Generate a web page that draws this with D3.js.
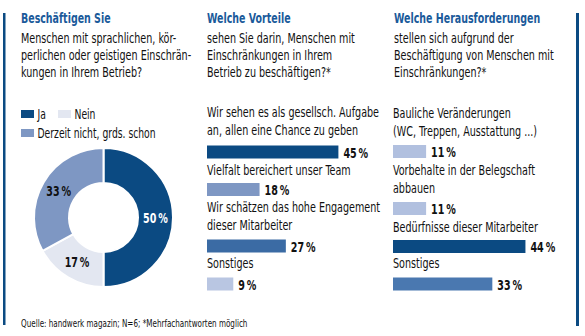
<!DOCTYPE html>
<html>
<head>
<meta charset="utf-8">
<script src="https://cdn.jsdelivr.net/npm/d3@7"></script>
<style>
  body { margin: 0; background: #fff; }
  svg text { font-family: "DejaVu Sans Condensed", "Liberation Sans", sans-serif; }
</style>
</head>
<body>
<div class="chart"></div>
<script>
// data
var pieLabels = ["Ja", "Nein", "Derzeit nicht, grds. schon"];
var pieValues = [50, 17, 33];

var vorteileLabels = [
  ["Wir sehen es als gesellsch. Aufgabe", "an, allen eine Chance zu geben"],
  ["Vielfalt bereichert unser Team"],
  ["Wir schätzen das hohe Engagement", "dieser Mitarbeiter"],
  ["Sonstiges"]
];
var vorteileValues = [45, 18, 27, 9];

var herausLabels = [
  ["Bauliche Veränderungen", "(WC, Treppen, Ausstattung ...)"],
  ["Vorbehalte in der Belegschaft", "abbauen"],
  ["Bedürfnisse dieser Mitarbeiter"],
  ["Sonstiges"]
];
var herausValues = [11, 11, 44, 33];

var svgWidth = 585;
var svgHeight = 336;

var dark = "#0b4a82";
var titleColor = "#1a5a9a";

var pieColors = ["#0b4a82", "#e3e7f1", "#7e97c3"];
var vorteileColors = ["#0b4a82", "#7e97c3", "#3b6ba4", "#b9c6e2"];
var herausColors = ["#b1c0df", "#b1c0df", "#0b4a82", "#4a78b0"];

var svg = d3.select(".chart")
  .append("svg")
  .attr("width", svgWidth)
  .attr("height", svgHeight);

// condensed look: squeeze text horizontally
function addText(parent, x, y, str, size, bold, sx, fill, anchor) {
  return parent.append("text")
    .attr("transform", "translate(" + x + "," + y + ") scale(" + sx + ",1)")
    .attr("font-size", size)
    .attr("font-weight", bold ? "bold" : "normal")
    .attr("fill", fill || "#111")
    .attr("text-anchor", anchor || "start")
    .text(str);
}

// frame bars
svg.append("rect").attr("x", 3).attr("y", 13).attr("width", 2.5).attr("height", 312).attr("fill", dark);
svg.append("rect").attr("x", 576).attr("y", 13).attr("width", 3).attr("height", 313).attr("fill", dark);

// column headers
function header(x, title, lines) {
  addText(svg, x, 23, title, 13.5, true, 0.78, titleColor);
  lines.forEach(function(l, i) {
    addText(svg, x, 43 + i * 17, l, 13.5, false, 0.79);
  });
}

header(21, "Beschäftigen Sie", ["Menschen mit sprachlichen, kör-", "perlichen oder geistigen Einschrän-", "kungen in Ihrem Betrieb?"]);
header(207, "Welche Vorteile", ["sehen Sie darin, Menschen mit", "Einschränkungen in Ihrem", "Betrieb zu beschäftigen?*"]);
header(394, "Welche Herausforderungen", ["stellen sich aufgrund der", "Beschäftigung von Menschen mit", "Einschränkungen?*"]);

// legend
var legendPos = [[21, 110], [58, 110], [21, 129]];
pieLabels.forEach(function(l, i) {
  var g = svg.append("g").attr("transform", "translate(" + legendPos[i][0] + "," + legendPos[i][1] + ")");
  g.append("rect").attr("width", 13).attr("height", 8).attr("fill", pieColors[i]);
  addText(g, 16.5, 8.5, l, 13.5, false, 0.76);
});

// donut
var pie = d3.pie().sort(null).value(function(d) { return d; });
var arc = d3.arc().innerRadius(34.5).outerRadius(69.5);
var labelArc = d3.arc().innerRadius(52).outerRadius(52);

var donut = svg.append("g").attr("transform", "translate(103.5,217.5)");
var arcs = pie(pieValues);

donut.selectAll("path")
  .data(arcs)
  .enter()
  .append("path")
  .attr("d", arc)
  .attr("fill", function(d, i) { return pieColors[i]; })
  .attr("stroke", "#fff")
  .attr("stroke-width", 2);

arcs.forEach(function(d, i) {
  var c = labelArc.centroid(d);
  addText(donut, c[0], c[1] + 5, d.data + "\u2009%", 14, true, 0.76, i === 0 ? "#fff" : "#111", "middle");
});

// bar lists
function barList(x0, pxPerPct, labels, values, colors, labelBaselines, barTops) {
  var xScale = d3.scaleLinear().domain([0, 100]).range([0, 100 * pxPerPct]);
  labels.forEach(function(lines, i) {
    lines.forEach(function(l, j) {
      addText(svg, x0, labelBaselines[i] + j * 18, l, 13.5, false, 0.79);
    });
  });
  var g = svg.append("g");
  g.selectAll("rect")
    .data(values)
    .enter()
    .append("rect")
    .attr("x", x0)
    .attr("y", function(d, i) { return barTops[i]; })
    .attr("width", function(d) { return xScale(d); })
    .attr("height", 13)
    .attr("fill", function(d, i) { return colors[i]; });
  values.forEach(function(d, i) {
    addText(g, x0 + xScale(d) + 5, barTops[i] + 12, d + "\u2009%", 14, true, 0.76);
  });
}

barList(207, 2.92, vorteileLabels, vorteileValues, vorteileColors, [117, 175, 212, 268], [145.5, 183, 239.5, 277.5]);
barList(393, 3.01, herausLabels, herausValues, herausColors, [118, 175, 232, 268], [145, 202, 240, 277.5]);

// source
addText(svg, 21, 327, "Quelle: handwerk magazin; N=6; *Mehrfachantworten möglich", 10, false, 0.8);
</script>
</body>
</html>
